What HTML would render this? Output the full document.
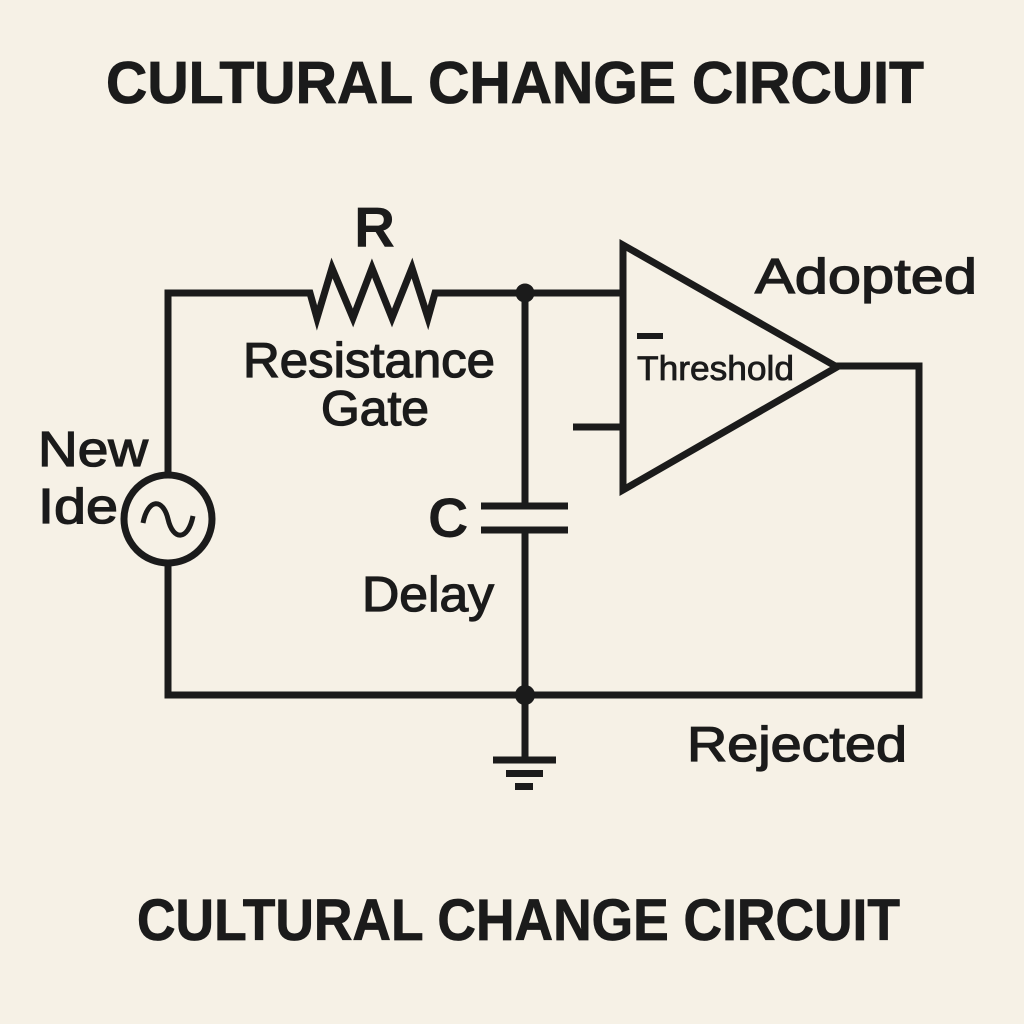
<!DOCTYPE html>
<html>
<head>
<meta charset="utf-8">
<style>
  html,body{margin:0;padding:0;background:#f6f1e6;}
  svg{display:block;}
  .t{font-family:"Liberation Sans",Arial,sans-serif;fill:#1b1b1b;}
  .lbl{font-size:49px;stroke:#1b1b1b;stroke-width:1.3px;}
</style>
</head>
<body>
<svg width="1024" height="1024" viewBox="0 0 1024 1024" xmlns="http://www.w3.org/2000/svg">
  <rect width="1024" height="1024" fill="#f6f1e6"/>

  <!-- Titles -->
  <text class="t" x="106" y="103" font-size="59" font-weight="bold" stroke="#1b1b1b" stroke-width="0.8" textLength="818" lengthAdjust="spacingAndGlyphs">CULTURAL CHANGE CIRCUIT</text>
  <text class="t" x="137" y="940" font-size="58" font-weight="bold" stroke="#1b1b1b" stroke-width="0.8" textLength="763" lengthAdjust="spacingAndGlyphs">CULTURAL CHANGE CIRCUIT</text>

  <g fill="none" stroke="#1b1b1b" stroke-width="7" stroke-linejoin="miter" stroke-linecap="butt">
    <path d="M168,296.5 V293 H310 L317,318 L332,268 L353,318 L372,268 L392,318 L412,268 L428,318 L435,293 H623"/>
    <path d="M168,290 V475"/>
    <path d="M168,563 V695 H919 V366 H835"/>
    <circle cx="168" cy="519" r="44"/>
    <path d="M525,293 V506"/>
    <path d="M481,506 H568"/>
    <path d="M481,530 H568"/>
    <path d="M525,530 V695"/>
    <path d="M525,695 V760"/>
    <path d="M493,760 H556"/>
    <path d="M506,773.5 H543"/>
    <path d="M515,786.5 H533"/>
    <polygon points="623,245 623,490 837,367"/>
    <path d="M573,427 H623"/>
  </g>
  <path d="M143,523 C148,498 163,498 168,519 C173,541 188,541 193,516" fill="none" stroke="#1b1b1b" stroke-width="5"/>

  <circle cx="525" cy="293" r="9.5" fill="#1b1b1b"/>
  <circle cx="525" cy="695" r="10" fill="#1b1b1b"/>

  <rect x="637" y="333" width="26" height="6" fill="#1b1b1b"/>

  <text class="t" x="354" y="247" font-size="57" font-weight="bold">R</text>
  <text class="t lbl" x="243" y="377" textLength="252" lengthAdjust="spacingAndGlyphs">Resistance</text>
  <text class="t lbl" x="321" y="425" textLength="108" lengthAdjust="spacingAndGlyphs">Gate</text>
  <text class="t lbl" x="38" y="466" textLength="110" lengthAdjust="spacingAndGlyphs">New</text>
  <text class="t lbl" x="38" y="523" textLength="80" lengthAdjust="spacingAndGlyphs">Ide</text>
  <text class="t" x="428" y="537" font-size="56" font-weight="bold">C</text>
  <text class="t lbl" x="362" y="611" textLength="132" lengthAdjust="spacingAndGlyphs">Delay</text>
  <text class="t lbl" x="755" y="293" font-size="50" textLength="222" lengthAdjust="spacingAndGlyphs">Adopted</text>
  <text class="t" x="637" y="380" font-size="34" stroke="#1b1b1b" stroke-width="0.8" textLength="157" lengthAdjust="spacingAndGlyphs">Threshold</text>
  <text class="t lbl" x="687" y="761" font-size="50" textLength="220" lengthAdjust="spacingAndGlyphs">Rejected</text>
</svg>
</body>
</html>
